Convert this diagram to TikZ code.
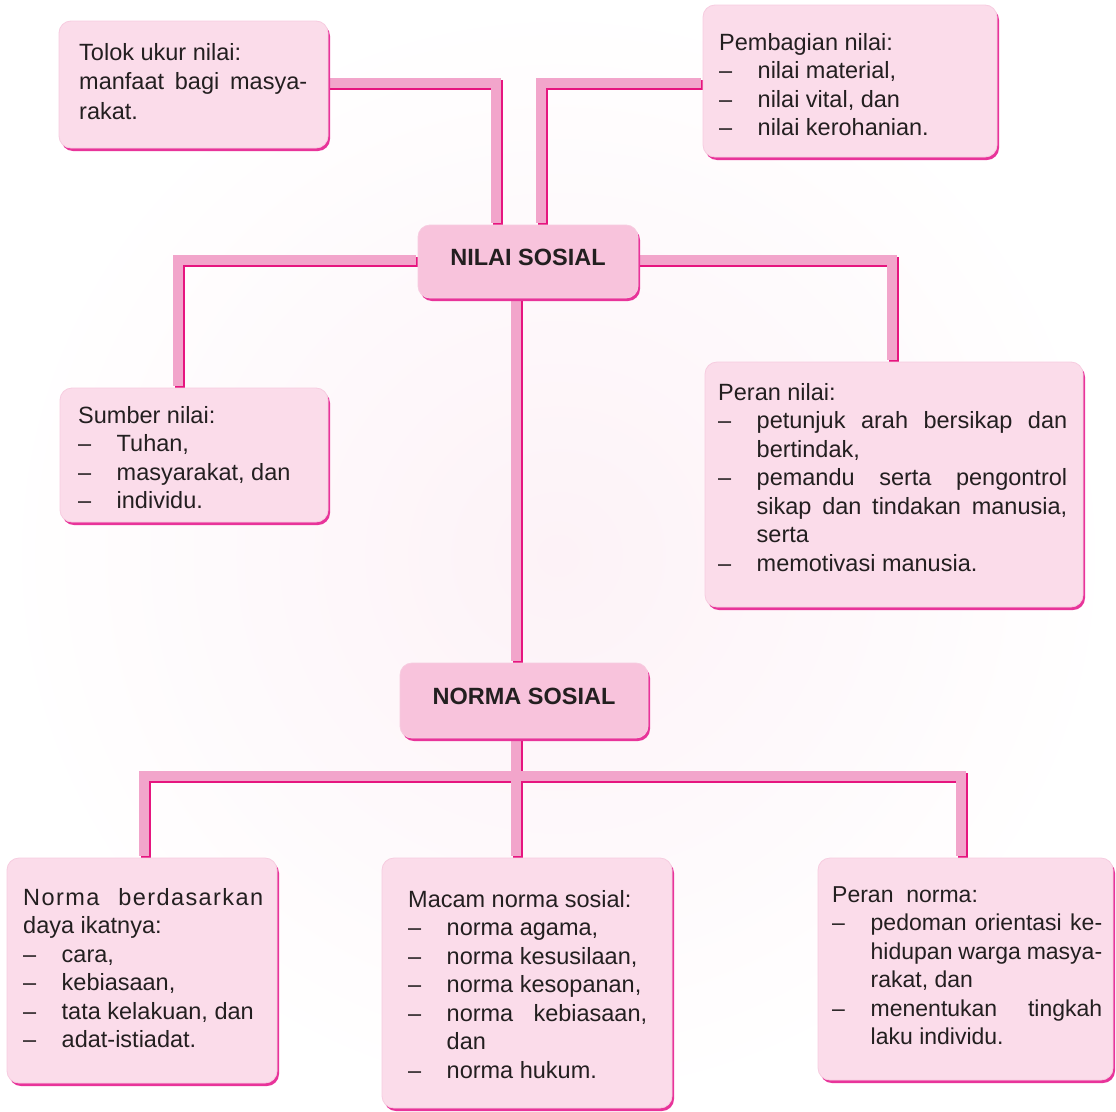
\documentclass[tikz,border=0pt]{standalone}
\usepackage{fontspec}
\setmainfont{Liberation Sans}
\usetikzlibrary{calc,shadows}
\definecolor{boxfill}{HTML}{FBDCEA}
\definecolor{boxline}{HTML}{F7CCE0}
\definecolor{boxedge}{HTML}{E8349A}
\definecolor{titlefill}{HTML}{F8C3DC}
\definecolor{connlight}{HTML}{F2A5CB}
\definecolor{conndark}{HTML}{E6157F}
\definecolor{textcol}{HTML}{231F20}
\definecolor{bgpink}{HTML}{FDF2F7}
\setlength{\parindent}{0pt}
\newlength\itmw
\setlength\itmw{38.5pt}
\newcommand\itm[1]{\par\hangindent=\itmw\hangafter=1\noindent\makebox[\itmw][l]{\textendash}#1\par}
\tikzset{
  box/.style={rectangle, rounded corners=12pt, fill=boxfill, draw=boxline, line width=0.8pt,
    inner sep=0pt, copy shadow={shadow xshift=2pt, shadow yshift=-3pt, fill=boxedge, draw=none}},
  titlebox/.style={box, fill=titlefill, text=textcol, text height=17pt, text depth=10pt,
    font=\bfseries\fontsize{23.5}{28}\selectfont},
  txt/.style={anchor=north west, inner sep=0pt, align=justify, text=textcol,
    font=\fontsize{23.5}{28.5}\selectfont},
  bardark/.style={draw=conndark, line width=10pt},
  barlight/.style={draw=connlight, line width=10pt, transform canvas={xshift=-2pt,yshift=2pt}},
}
\newcommand\barpaths[1]{%
  \draw[#1] (tolok.east) -| ($(nilai.north)+(-30,0)$);
  \draw[#1] ($(nilai.north)+(15,0)$) |- ($(pemb.west)+(0,4)$);
  \draw[#1] (nilai.west) -| ($(sumber.north)+(-14,0)$);
  \draw[#1] (nilai.east) -| (perann.north);
  \draw[#1] ($(nilai.south)+(-10,0)$) -- ($(norma.north)+(-6,0)$);
  \draw[#1] (norma.south -| j) -- (macam.north -| j);
  \draw[#1] ($(berd.north)+(4,0)$) |- (j) -| ($(pnorma.north)+(-3,0)$);
}
\begin{document}
\begin{tikzpicture}[x=1pt,y=-1pt]
\useasboundingbox (0,0) rectangle (1116,1111);
\shade[inner color=bgpink, outer color=white] (0,0) rectangle (1116,1111);

% box centres
\path (193.5,84.5) coordinate (c-tolok)
      (850,81) coordinate (c-pemb)
      (528,261.5) coordinate (c-nilai)
      (194,455) coordinate (c-sumber)
      (894,484.5) coordinate (c-perann)
      (524,700.5) coordinate (c-norma)
      (142,970.5) coordinate (c-berd)
      (527,983) coordinate (c-macam)
      (965.5,969) coordinate (c-pnorma);
\coordinate (j) at (518,778);

% invisible placeholders for connector anchors
\begin{scope}[every node/.style={rectangle, inner sep=0pt}]
\node[minimum width=269pt, minimum height=127pt] (tolok) at (c-tolok) {};
\node[minimum width=294pt, minimum height=152pt] (pemb) at (c-pemb) {};
\node[minimum width=220pt, minimum height=73pt] (nilai) at (c-nilai) {};
\node[minimum width=268pt, minimum height=134pt] (sumber) at (c-sumber) {};
\node[minimum width=378pt, minimum height=245pt] (perann) at (c-perann) {};
\node[minimum width=248pt, minimum height=75pt] (norma) at (c-norma) {};
\node[minimum width=270pt, minimum height=225pt] (berd) at (c-berd) {};
\node[minimum width=290pt, minimum height=250pt] (macam) at (c-macam) {};
\node[minimum width=295pt, minimum height=222pt] (pnorma) at (c-pnorma) {};
\end{scope}

% connectors
\barpaths{bardark}
\barpaths{barlight}

% boxes
\node[box, minimum width=269pt, minimum height=127pt] (tolokbox) at (c-tolok) {};
\node[box, minimum width=294pt, minimum height=152pt] (pembbox) at (c-pemb) {};
\node[titlebox, minimum width=220pt, minimum height=73pt] (nilaibox) at (c-nilai) {NILAI SOSIAL};
\node[box, minimum width=268pt, minimum height=134pt] (sumberbox) at (c-sumber) {};
\node[box, minimum width=378pt, minimum height=245pt] (peranbox) at (c-perann) {};
\node[titlebox, minimum width=248pt, minimum height=75pt] (normabox) at (c-norma) {NORMA SOSIAL};
\node[box, minimum width=270pt, minimum height=225pt] (berdbox) at (c-berd) {};
\node[box, minimum width=290pt, minimum height=250pt] (macambox) at (c-macam) {};
\node[box, minimum width=295pt, minimum height=222pt] (pnormabox) at (c-pnorma) {};

% texts
\node[txt, text width=228pt, font=\fontsize{23.5}{29.5}\selectfont] (ttolok) at (79,42.8)
  {Tolok ukur nilai:\par manfaat bagi masya-\linebreak rakat.\par};
\node[txt, text width=260pt] (tpemb) at (719,32.8)
  {Pembagian nilai:\itm{nilai material,}\itm{nilai vital, dan}\itm{nilai kerohanian.}};
\node[txt, text width=240pt] (tsumber) at (78,405.8)
  {Sumber nilai:\itm{Tuhan,}\itm{masyarakat, dan}\itm{individu.}};
\node[txt, text width=349pt] (tperann) at (718,382.8)
  {Peran nilai:\itm{petunjuk arah bersikap dan\linebreak bertindak,}\itm{pemandu serta pengontrol\linebreak sikap dan tindakan manusia,\linebreak serta}\itm{memotivasi manusia.}};
\node[txt, text width=240pt] (tberd) at (23,887.8)
  {{\addfontfeature{LetterSpace=6}Norma berdasarkan}\linebreak daya ikatnya:\itm{cara,}\itm{kebiasaan,}\itm{tata kelakuan, dan}\itm{adat-istiadat.}};
\node[txt, text width=239pt] (tmacam) at (408,889.8)
  {Macam norma sosial:\itm{norma agama,}\itm{norma kesusilaan,}\itm{norma kesopanan,}\itm{norma kebiasaan,\linebreak dan}\itm{norma hukum.}};
\node[txt, text width=270pt, font=\fontsize{23}{28.5}\selectfont] (tpnorma) at (832,886.2)
  {Peran~~norma:\itm{pedoman orientasi ke-\linebreak hidupan warga masya-\linebreak rakat, dan}\itm{menentukan tingkah\linebreak laku individu.}};
\end{tikzpicture}
\end{document}
